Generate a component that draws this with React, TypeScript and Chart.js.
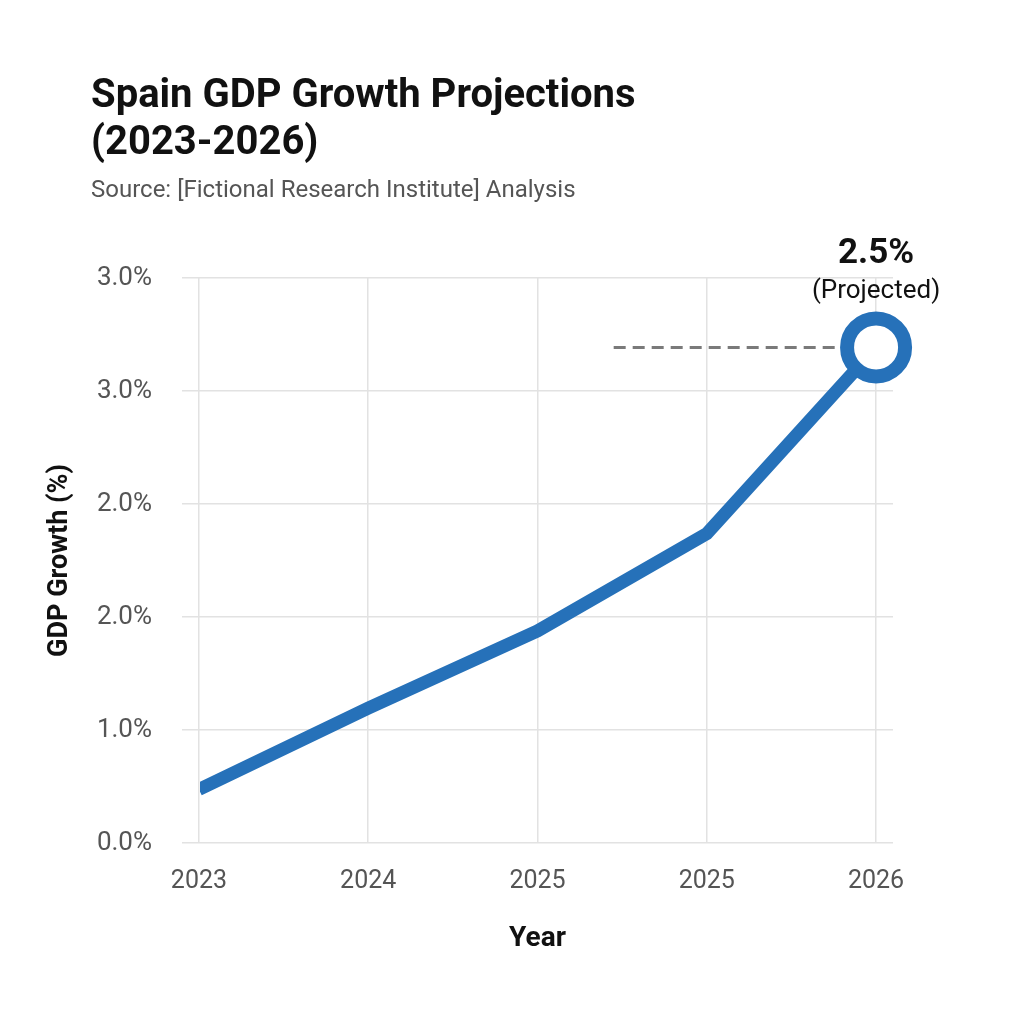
import React, { useEffect, useRef } from "react";
import { Chart, registerables } from "chart.js";

Chart.register(...registerables);

// Years along the x axis and the GDP growth (%) for each of them
const yearLabels = ["2023", "2024", "2025", "2025", "2026"];
const growth = [0.27, 0.68, 1.07, 1.56, 2.5];

// Value-axis gridline positions and the labels printed beside them
const yTickValues = [0, 0.57, 1.14, 1.71, 2.28, 2.85];
const yTickLabels = ["0.0%", "1.0%", "2.0%", "2.0%", "3.0%", "3.0%"];

// Where the dashed guide towards the projected value begins (x index)
const guideStart = 2.45;

const titleLines = ["Spain GDP Growth Projections", "(2023-2026)"];
const subtitleText = "Source: [Fictional Research Institute] Analysis";
const projectedNote = "(Projected)";

const BLUE = "#2671b9";
const GRID = "#e2e2e2";
const FONT = "Roboto, 'Noto Sans', sans-serif";

const headerPlugin = {
  id: "header",
  afterDraw(chart: any) {
    const { ctx } = chart;
    ctx.save();
    ctx.fillStyle = "#111111";
    ctx.textAlign = "left";
    ctx.textBaseline = "alphabetic";
    ctx.font = `bold 40px ${FONT}`;
    ctx.fillText(titleLines[0], 91, 107);
    ctx.fillText(titleLines[1], 91, 154);
    ctx.fillStyle = "#555555";
    ctx.font = `24px ${FONT}`;
    ctx.fillText(subtitleText, 91, 197);

    // Callout above the last (projected) point
    const xs = chart.scales.x;
    const ys = chart.scales.y;
    const last = growth.length - 1;
    const px = xs.getPixelForValue(last);
    const py = ys.getPixelForValue(growth[last]);
    ctx.textAlign = "center";
    ctx.fillStyle = "#111111";
    ctx.font = `bold 35px ${FONT}`;
    ctx.fillText(`${growth[last].toFixed(1)}%`, px, py - 84);
    ctx.font = `26px ${FONT}`;
    ctx.fillText(projectedNote, px, py - 49);
    ctx.restore();
  },
};

export default function App() {
  const canvasRef = useRef<HTMLCanvasElement | null>(null);

  useEffect(() => {
    const canvas = canvasRef.current;
    if (!canvas) return;
    const last = growth.length - 1;

    const chart = new Chart(canvas, {
      type: "line",
      data: {
        datasets: [
          {
            data: growth.map((y, i) => ({ x: i, y })),
            borderColor: BLUE,
            borderWidth: 13,
            borderCapStyle: "butt",
            borderJoinStyle: "miter",
            tension: 0,
            pointRadius: growth.map((_, i) => (i === last ? 29 : 0)),
            pointHoverRadius: growth.map((_, i) => (i === last ? 29 : 0)),
            pointBorderWidth: 14,
            pointBackgroundColor: "#ffffff",
            pointBorderColor: BLUE,
            clip: { left: -18, right: false, top: false, bottom: false } as any,
            order: 0,
          },
          {
            data: [
              { x: guideStart, y: growth[last] },
              { x: last, y: growth[last] },
            ],
            borderColor: "#7a7a7a",
            borderWidth: 3,
            borderDash: [12, 7],
            pointRadius: 0,
            clip: false as any,
            order: 1,
          },
        ],
      },
      options: {
        responsive: false,
        animation: false,
        devicePixelRatio: 1,
        layout: { padding: { left: 40, right: 131, top: 278, bottom: 61 } },
        plugins: {
          legend: { display: false },
          tooltip: { enabled: false },
          title: { display: false },
        },
        events: [],
        scales: {
          x: {
            type: "linear",
            min: -0.1,
            max: 4.1,
            afterBuildTicks: (scale: any) => {
              scale.ticks = yearLabels.map((_, i) => ({ value: i }));
            },
            afterFit: (scale: any) => {
              scale.height = 120;
            },
            ticks: {
              callback: (_v: any, i: number) => yearLabels[i],
              color: "#555555",
              font: { family: FONT, size: 25 },
              padding: 24,
              maxRotation: 0,
              autoSkip: false,
            },
            grid: { color: GRID, lineWidth: 1.5, drawTicks: false },
            border: { display: false },
            title: {
              display: true,
              text: "Year",
              color: "#111111",
              font: { family: FONT, size: 28, weight: "bold" },
              padding: { top: 0, bottom: 7 },
            },
          },
          y: {
            type: "linear",
            min: 0,
            max: 2.85,
            afterBuildTicks: (scale: any) => {
              scale.ticks = yTickValues.map((v) => ({ value: v }));
            },
            afterFit: (scale: any) => {
              scale.width = 142;
            },
            ticks: {
              callback: (_v: any, i: number) => yTickLabels[i],
              color: "#555555",
              font: { family: FONT, size: 26 },
              padding: 30,
            },
            grid: { color: GRID, lineWidth: 1.5, drawTicks: false },
            border: { display: false },
            title: {
              display: true,
              text: "GDP Growth (%)",
              color: "#111111",
              font: { family: FONT, size: 27, weight: "bold" },
              padding: { top: 4, bottom: 0 },
            },
          },
        },
      },
      plugins: [headerPlugin],
    });

    return () => chart.destroy();
  }, []);

  return (
    <canvas
      ref={canvasRef}
      width={1024}
      height={1024}
      style={{ position: "absolute", left: 0, top: 0, width: 1024, height: 1024, background: "#ffffff" }}
    />
  );
}
